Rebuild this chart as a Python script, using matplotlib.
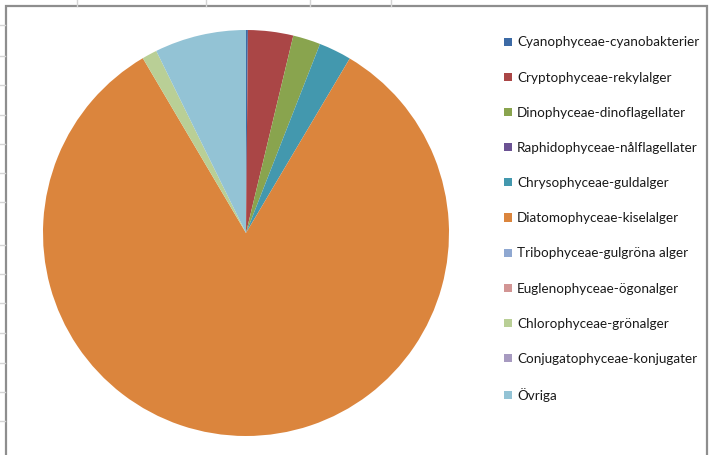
import matplotlib
matplotlib.use("Agg")
import matplotlib.pyplot as plt
from matplotlib.patches import Rectangle
from matplotlib.lines import Line2D

plt.rcParams['font.family'] = ['Lato', 'DejaVu Sans']

# Share of biovolume per algal class (%)
classes = [
    "Cyanophyceae-cyanobakterier",
    "Cryptophyceae-rekylalger",
    "Dinophyceae-dinoflagellater",
    "Raphidophyceae-nålflagellater",
    "Chrysophyceae-guldalger",
    "Diatomophyceae-kiselalger",
    "Tribophyceae-gulgröna alger",
    "Euglenophyceae-ögonalger",
    "Chlorophyceae-grönalger",
    "Conjugatophyceae-konjugater",
    "Övriga",
]
shares = [0.15, 3.6, 2.2, 0.0, 2.6, 83.1, 0.0, 0.0, 1.2, 0.0, 7.3]
colors = ["#3C6AA5", "#AA4646", "#89A44E", "#6B5293", "#4398AE", "#DB853D",
          "#8FA8D1", "#D29594", "#B9CF96", "#A79AC0", "#93C3D5"]

W, H = 712, 455
fig = plt.figure(figsize=(W / 100, H / 100), dpi=100)

# spreadsheet grid peeking out around the chart area
for x in [77, 206, 310, 391]:
    fig.add_artist(Line2D([x / W, x / W], [1, 1 - 6 / H], color="#D4D4D4", lw=1))
for y in [25, 56, 85, 115, 144, 173, 202, 245, 274, 303, 333, 363, 392, 421]:
    fig.add_artist(Line2D([0, 5 / W], [1 - y / H, 1 - y / H], color="#D4D4D4", lw=1))

# chart area border
fig.add_artist(Rectangle((6 / W, -0.05), 701 / W, 1.05 - 6 / H, transform=fig.transFigure,
                         fill=False, edgecolor="#8E8E8E", lw=1.6))

cx, cy, r = 246, 233, 203
ax = fig.add_axes([(cx - r) / W, (H - cy - r) / H, 2 * r / W, 2 * r / H])
wedges, _ = ax.pie(shares, colors=colors, startangle=90, counterclock=False,
                   wedgeprops=dict(linewidth=0))
ax.set_xlim(-1, 1)
ax.set_ylim(-1, 1)
ax.set_aspect("equal")
ax.axis("off")

leg = fig.legend(wedges, classes, loc="upper left", bbox_to_anchor=(499 / W, 1 - 31 / H),
                 frameon=False, fontsize=9.7, handlelength=0.55, handleheight=0.55,
                 handletextpad=0.4, labelspacing=1.72, borderaxespad=0)
for t in leg.get_texts():
    t.set_color("#1A1A1A")

fig.savefig("out.png", dpi=100)
